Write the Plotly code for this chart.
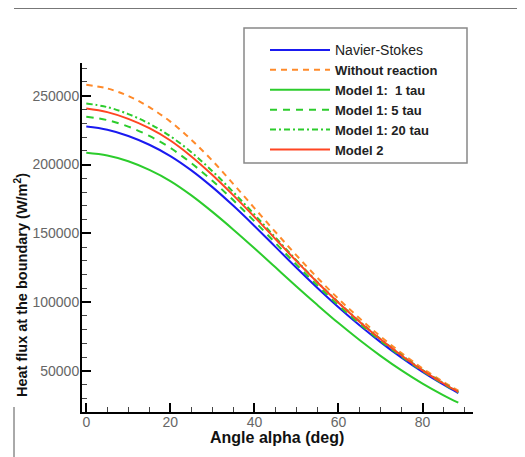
import plotly.graph_objects as go

# ---- data ----
angle = [0, 5, 10, 15, 20, 25, 30, 35, 40, 45, 50, 55, 60, 65, 70, 75, 80, 85, 88.5]

navier_stokes = [227600, 225300, 220800, 214400, 206200, 195800, 183600, 170000, 155400,
                 140200, 125000, 110300, 96300, 83200, 71000, 59700, 49300, 40000, 34000]
without_reaction = [258000, 255300, 249800, 241700, 231200, 218000, 202800, 185800, 168400,
                    151000, 134000, 117700, 102400, 88300, 75100, 63000, 51900, 42000, 35700]
model1_1tau = [208600, 206600, 202400, 196100, 188000, 177600, 165600, 152700, 139200,
               125300, 111400, 97900, 84800, 72500, 61000, 50400, 40800, 32300, 27000]
model1_5tau = [234700, 232300, 227600, 220800, 212100, 201000, 188200, 174000, 158800,
               143000, 127300, 112100, 97700, 84300, 71900, 60400, 49900, 40500, 34500]
model1_20tau = [244400, 241750, 236700, 229700, 220600, 208900, 195200, 179900, 163700,
                147000, 130400, 114600, 99800, 86000, 73200, 61500, 50700, 41100, 35000]
model2 = [240700, 238100, 233200, 226400, 217500, 205900, 192400, 177600, 162000,
          145900, 129800, 114300, 99600, 85800, 73000, 61300, 50500, 40900, 34800]

series = [
    ('<span style="font-size:14px">Navier-Stokes</span>', navier_stokes, "#1a1af0", "solid"),
    ("<b>Without reaction</b>", without_reaction, "#ff8a2a", "6px,5px"),
    ("<b>Model 1:  1 tau</b>", model1_1tau, "#2ccc2c", "solid"),
    ("<b>Model 1: 5 tau</b>", model1_5tau, "#2ccc2c", "7px,6px"),
    ("<b>Model 1: 20 tau</b>", model1_20tau, "#2ccc2c", "6px,3px,2px,3px"),
    ("<b>Model 2</b>", model2, "#ff4522", "solid"),
]

FONT = "Liberation Sans, Arial, Helvetica, sans-serif"

fig = go.Figure()
for name, vals, color, dash in series:
    fig.add_trace(go.Scatter(x=angle, y=vals, mode="lines", name=name,
                             line=dict(color=color, width=2, dash=dash, shape="spline")))

# page has an 8px body margin; figure is placed at (8, 8)
OFF = 8
W, H = 517, 449
L, R, T, B = 74, 52, 55, 45
pw, ph = W - L - R, H - T - B


def px_x(sx):  # screen x -> paper
    return (sx - OFF - L) / pw


def px_y(sy):  # screen y -> paper
    return (OFF + H - B - sy) / ph


fig.update_layout(
    width=W, height=H,
    margin=dict(l=L, r=R, t=T, b=B, pad=0),
    paper_bgcolor="white", plot_bgcolor="white",
    font=dict(family=FONT, size=14, color="#666666"),
    showlegend=True,
    legend=dict(x=px_x(265), y=px_y(35), xanchor="left", yanchor="top",
                bgcolor="rgba(0,0,0,0)", borderwidth=0,
                font=dict(family=FONT, size=13, color="#222222"),
                itemwidth=60, tracegroupgap=0),
    xaxis=dict(range=[-1.02, 92], showgrid=False, zeroline=False,
               showline=True, linecolor="black", linewidth=2,
               ticks="inside", ticklen=9, tickwidth=2, tickcolor="black",
               tick0=0, dtick=20, ticklabelstandoff=-4,
               minor=dict(ticks="inside", dtick=5, tick0=0, ticklen=5, tickwidth=1, tickcolor="#444444"),
               tickfont=dict(size=14, color="#666666")),
    yaxis=dict(range=[20200, 273800], showgrid=False, zeroline=False,
               showline=True, linecolor="black", linewidth=2,
               ticks="inside", ticklen=9, tickwidth=2, tickcolor="black",
               tick0=0, dtick=50000, tickformat="d", ticklabelstandoff=-2,
               minor=dict(ticks="inside", dtick=10000, tick0=0, ticklen=5, tickwidth=1, tickcolor="#444444"),
               tickfont=dict(size=14, color="#666666")),
    shapes=[
        dict(type="rect", xref="paper", yref="paper", layer="below",
             x0=px_x(244), x1=px_x(467), y0=px_y(163), y1=px_y(28),
             line=dict(color="#888888", width=1.5), fillcolor="white"),
        dict(type="line", xref="paper", yref="paper",
             x0=px_x(14), x1=px_x(525), y0=px_y(8.5), y1=px_y(8.5),
             line=dict(color="#777777", width=1)),
        dict(type="line", xref="paper", yref="paper",
             x0=px_x(14), x1=px_x(14), y0=px_y(407), y1=px_y(457),
             line=dict(color="#555555", width=1)),
    ],
    annotations=[
        dict(text="<b>Angle alpha (deg)</b>", xref="paper", yref="paper",
             x=px_x(277), y=px_y(437), xanchor="center", yanchor="middle",
             showarrow=False, font=dict(family=FONT, size=16, color="#111111")),
        dict(text="<b>Heat flux at the boundary (W/m<sup>2</sup>)</b>", xref="paper", yref="paper",
             x=px_x(21), y=px_y(285), xanchor="center", yanchor="middle", textangle=-90,
             showarrow=False, font=dict(family=FONT, size=14.5, color="#111111")),
    ],
)

fig.write_html("out.html")
